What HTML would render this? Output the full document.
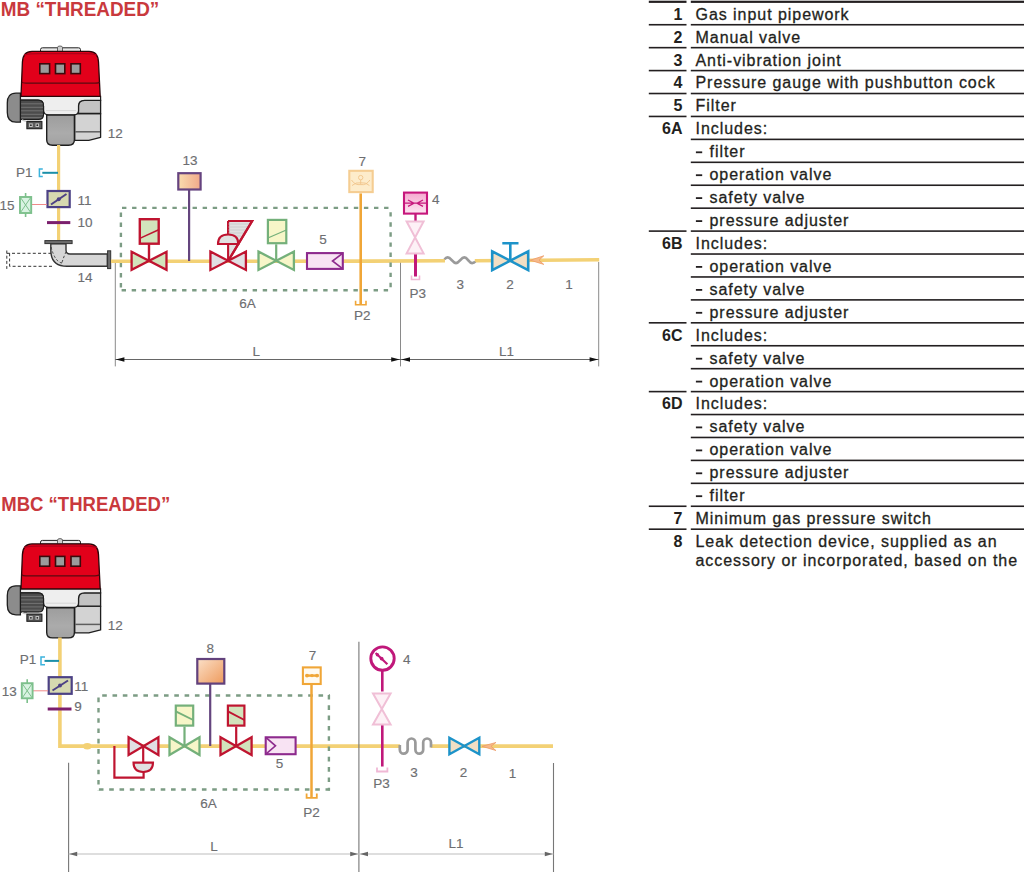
<!DOCTYPE html>
<html><head><meta charset="utf-8">
<style>
html,body{margin:0;padding:0;background:#fff;width:1024px;height:872px;overflow:hidden}
svg{display:block;position:absolute;left:0;top:0}
text{font-family:"Liberation Sans",sans-serif}
.t{font-size:16px;fill:#231f20;letter-spacing:0.95px;stroke:#231f20;stroke-width:0.3px}
.n{font-size:16px;fill:#231f20;font-weight:bold;text-anchor:end}
.lb{font-size:13.5px;fill:#6d6e71;stroke:#6d6e71;stroke-width:0.15px}
.ttl{font-size:19.8px;font-weight:bold;fill:#c9393d}
</style></head>
<body>
<svg width="1024" height="872" viewBox="0 0 1024 872">
<defs>
<linearGradient id="gOr" x1="0" y1="0" x2="1" y2="1"><stop offset="0" stop-color="#fbe0c8"/><stop offset="1" stop-color="#ee9a5c"/></linearGradient>
<linearGradient id="gOr2" x1="0" y1="0" x2="1" y2="0"><stop offset="0" stop-color="#f9dcae"/><stop offset="1" stop-color="#f1a98a"/></linearGradient>
<linearGradient id="gBody" x1="0" y1="0" x2="0" y2="1"><stop offset="0" stop-color="#9d9d9d"/><stop offset=".6" stop-color="#ababab"/><stop offset="1" stop-color="#a2a2a2"/></linearGradient>
<linearGradient id="gPink" x1="0" y1="0" x2="0" y2="1"><stop offset="0" stop-color="#f5a9cf"/><stop offset="1" stop-color="#fde6f2"/></linearGradient>
<g id="burner">
<text class="lb" x="107.8" y="137.7">12</text>
<!-- handle -->
<path d="M40.5 51.5 L40.5 49.5 Q40.5 47.8 42.5 47.8 L78.5 47.8 Q80.5 47.8 80.5 49.5 L80.5 51.5 Z" fill="#e8e8e8" stroke="#222" stroke-width="1"/>
<path d="M57.5 51 L57.5 47.5 Q57.5 46 60 46 Q62.5 46 62.5 47.5 L62.5 51" fill="#cfcfcf" stroke="#444" stroke-width="0.8"/>
<!-- right box -->
<path d="M74.7 113.5 H100.6 V137.3 L88.8 140.3 H74.7 Z" fill="#d3d3d3" stroke="#1e1e1e" stroke-width="1.3" stroke-linejoin="round"/>
<path d="M78.5 113.5 V105.8 Q78.5 100.3 84.5 100.3 H100.6 V113.5 Z" fill="#c3c3c3" stroke="#1e1e1e" stroke-width="1.3"/>
<path d="M75.3 131.8 H100" stroke="#5e5e5e" stroke-width="1.5"/>
<!-- white band -->
<path d="M20.4 96.3 H100.6 V100.3 H84.5 Q78.5 100.3 78.5 105.8 V110.5 Q78.5 114.8 74 114.8 H48.5 Q43.5 114.8 43.5 110 V106 Q43.5 100.2 38 100.2 H20.4 Z" fill="#eeeeee" stroke="#1e1e1e" stroke-width="1.2"/>
<path d="M46 110.6 H76" stroke="#d0d0d0" stroke-width="0.8"/>
<!-- center body -->
<path d="M46.7 115.1 H74.4 V139.8 Q74.4 145.3 68.5 145.3 H52.6 Q46.7 145.3 46.7 139.8 Z" fill="url(#gBody)" stroke="#1e1e1e" stroke-width="1.4"/>
<!-- motor body -->
<path d="M20.4 100.2 H38 Q43.5 100.2 43.5 106 V114.5 Q43.5 119.5 38.5 119.5 H20.4 Z" fill="#4c4c4c" stroke="#1e1e1e" stroke-width="1.2"/>
<path d="M21 103.8 H42.8 M21 107.3 H43 M21 110.8 H43 M21 114.3 H43 M21 117.6 H41.5" stroke="#7d7d7d" stroke-width="0.8"/>
<path d="M27 120.6 H41.5" stroke="#cfcfcf" stroke-width="1"/>
<!-- terminal box -->
<path d="M22 119.8 Q24 121.3 27 121.3 H41.5" stroke="#c9c9c9" stroke-width="1.3" fill="none"/>
<rect x="26.9" y="121.6" width="15" height="7.1" fill="#5c5c5c" stroke="#1e1e1e" stroke-width="1.1"/>
<rect x="29.1" y="123.4" width="3.6" height="3.6" fill="#c4c4c4"/><rect x="35.5" y="123.4" width="3.6" height="3.6" fill="#c4c4c4"/><circle cx="30.9" cy="125.2" r="0.9" fill="#222"/><circle cx="37.3" cy="125.2" r="0.9" fill="#222"/>
<!-- motor cap -->
<path d="M20.4 93.2 L16 93.2 Q7.3 93.2 7.3 103 L7.3 112.5 Q7.3 122.2 16 122.2 L20.4 122.2 Z" fill="#8c8c8c" stroke="#1e1e1e" stroke-width="1.3"/>
<!-- red top -->
<path d="M21 96.3 L22.4 62 Q23 51.3 32 51.3 L89 51.3 Q98 51.3 98.5 62 L100.2 96.3 Z" fill="#e2001a" stroke="#2a0508" stroke-width="1.3"/>
<path d="M24 54.8 Q30 53.5 40 53.6 L82 53.6 Q92 53.5 97 54.8" stroke="#b0001a" stroke-width="1.2" fill="none"/>
<path d="M21.8 82 Q22.5 83.2 26 83.2 L95 83.2 Q99 83.2 99.5 82" stroke="#5a0a10" stroke-width="1.2" fill="none"/>
<rect x="39.8" y="63.8" width="9.8" height="9.8" fill="#9b9b9b" stroke="#3a0a0c" stroke-width="1.6"/>
<rect x="55.5" y="63.8" width="9.3" height="9.8" fill="#9b9b9b" stroke="#3a0a0c" stroke-width="1.6"/>
<rect x="71" y="63.8" width="9.3" height="9.8" fill="#9b9b9b" stroke="#3a0a0c" stroke-width="1.6"/>
</g>

</defs>
<!-- TITLES -->
<text class="ttl" x="0.8" y="15.5" textLength="158.5" lengthAdjust="spacingAndGlyphs">MB “THREADED”</text>
<text class="ttl" x="1.2" y="510.6" textLength="169" lengthAdjust="spacingAndGlyphs">MBC “THREADED”</text>
<!-- TABLE -->
<g id="table">
<rect x="690.8" y="0.70" width="334" height="2.2" fill="#231f20"/>
<rect x="648.8" y="0.70" width="37.7" height="2.2" fill="#231f20"/>
<text class="n" x="682.5" y="19.6">1</text>
<text class="t" x="695.5" y="19.6">Gas input pipework</text>
<rect x="690.8" y="23.93" width="334" height="1.6" fill="#231f20"/>
<rect x="648.8" y="23.93" width="37.7" height="1.6" fill="#231f20"/>
<text class="n" x="682.5" y="42.5">2</text>
<text class="t" x="695.5" y="42.5">Manual valve</text>
<rect x="690.8" y="46.86" width="334" height="1.6" fill="#231f20"/>
<rect x="648.8" y="46.86" width="37.7" height="1.6" fill="#231f20"/>
<text class="n" x="682.5" y="65.5">3</text>
<text class="t" x="695.5" y="65.5">Anti-vibration joint</text>
<rect x="690.8" y="69.79" width="334" height="1.6" fill="#231f20"/>
<rect x="648.8" y="69.79" width="37.7" height="1.6" fill="#231f20"/>
<text class="n" x="682.5" y="88.4">4</text>
<text class="t" x="695.5" y="88.4">Pressure gauge with pushbutton cock</text>
<rect x="690.8" y="92.72" width="334" height="1.6" fill="#231f20"/>
<rect x="648.8" y="92.72" width="37.7" height="1.6" fill="#231f20"/>
<text class="n" x="682.5" y="111.3">5</text>
<text class="t" x="695.5" y="111.3">Filter</text>
<rect x="690.8" y="115.65" width="334" height="1.6" fill="#231f20"/>
<rect x="648.8" y="115.65" width="37.7" height="1.6" fill="#231f20"/>
<text class="n" x="682.5" y="134.2">6A</text>
<text class="t" x="695.5" y="134.2">Includes:</text>
<rect x="690.8" y="138.58" width="334" height="1.6" fill="#231f20"/>
<rect x="695.9" y="151.4" width="6.3" height="1.8" fill="#231f20"/><text class="t" x="709.5" y="157.2">filter</text>
<rect x="690.8" y="161.51" width="334" height="1.6" fill="#231f20"/>
<rect x="695.9" y="174.3" width="6.3" height="1.8" fill="#231f20"/><text class="t" x="709.5" y="180.1">operation valve</text>
<rect x="690.8" y="184.44" width="334" height="1.6" fill="#231f20"/>
<rect x="695.9" y="197.2" width="6.3" height="1.8" fill="#231f20"/><text class="t" x="709.5" y="203.0">safety valve</text>
<rect x="690.8" y="207.37" width="334" height="1.6" fill="#231f20"/>
<rect x="695.9" y="220.2" width="6.3" height="1.8" fill="#231f20"/><text class="t" x="709.5" y="226.0">pressure adjuster</text>
<rect x="690.8" y="230.30" width="334" height="1.6" fill="#231f20"/>
<rect x="648.8" y="230.30" width="37.7" height="1.6" fill="#231f20"/>
<text class="n" x="682.5" y="248.9">6B</text>
<text class="t" x="695.5" y="248.9">Includes:</text>
<rect x="690.8" y="253.23" width="334" height="1.6" fill="#231f20"/>
<rect x="695.9" y="266.0" width="6.3" height="1.8" fill="#231f20"/><text class="t" x="709.5" y="271.8">operation valve</text>
<rect x="690.8" y="276.16" width="334" height="1.6" fill="#231f20"/>
<rect x="695.9" y="289.0" width="6.3" height="1.8" fill="#231f20"/><text class="t" x="709.5" y="294.8">safety valve</text>
<rect x="690.8" y="299.09" width="334" height="1.6" fill="#231f20"/>
<rect x="695.9" y="311.9" width="6.3" height="1.8" fill="#231f20"/><text class="t" x="709.5" y="317.7">pressure adjuster</text>
<rect x="690.8" y="322.02" width="334" height="1.6" fill="#231f20"/>
<rect x="648.8" y="322.02" width="37.7" height="1.6" fill="#231f20"/>
<text class="n" x="682.5" y="340.6">6C</text>
<text class="t" x="695.5" y="340.6">Includes:</text>
<rect x="690.8" y="344.95" width="334" height="1.6" fill="#231f20"/>
<rect x="695.9" y="357.8" width="6.3" height="1.8" fill="#231f20"/><text class="t" x="709.5" y="363.6">safety valve</text>
<rect x="690.8" y="367.88" width="334" height="1.6" fill="#231f20"/>
<rect x="695.9" y="380.7" width="6.3" height="1.8" fill="#231f20"/><text class="t" x="709.5" y="386.5">operation valve</text>
<rect x="690.8" y="390.81" width="334" height="1.6" fill="#231f20"/>
<rect x="648.8" y="390.81" width="37.7" height="1.6" fill="#231f20"/>
<text class="n" x="682.5" y="409.4">6D</text>
<text class="t" x="695.5" y="409.4">Includes:</text>
<rect x="690.8" y="413.74" width="334" height="1.6" fill="#231f20"/>
<rect x="695.9" y="426.5" width="6.3" height="1.8" fill="#231f20"/><text class="t" x="709.5" y="432.3">safety valve</text>
<rect x="690.8" y="436.67" width="334" height="1.6" fill="#231f20"/>
<rect x="695.9" y="449.5" width="6.3" height="1.8" fill="#231f20"/><text class="t" x="709.5" y="455.3">operation valve</text>
<rect x="690.8" y="459.60" width="334" height="1.6" fill="#231f20"/>
<rect x="695.9" y="472.4" width="6.3" height="1.8" fill="#231f20"/><text class="t" x="709.5" y="478.2">pressure adjuster</text>
<rect x="690.8" y="482.53" width="334" height="1.6" fill="#231f20"/>
<rect x="695.9" y="495.3" width="6.3" height="1.8" fill="#231f20"/><text class="t" x="709.5" y="501.1">filter</text>
<rect x="690.8" y="505.46" width="334" height="1.6" fill="#231f20"/>
<rect x="648.8" y="505.46" width="37.7" height="1.6" fill="#231f20"/>
<text class="n" x="682.5" y="524.1">7</text>
<text class="t" x="695.5" y="524.1">Minimum gas pressure switch</text>
<rect x="690.8" y="528.39" width="334" height="1.6" fill="#231f20"/>
<rect x="648.8" y="528.39" width="37.7" height="1.6" fill="#231f20"/>
<text class="n" x="682.5" y="547.0">8</text>
<text class="t" x="695.5" y="547.0">Leak detection device, supplied as an</text>
<text class="t" x="695.5" y="565.5">accessory or incorporated, based on the</text>
</g>
<!-- BURNERS -->
<g id="burners"><use href="#burner"/><use href="#burner" transform="translate(0,492.6)"/></g>
<!-- TOP DIAGRAM -->
<g id="top">
<g id="topd">
<!-- vertical pipe -->
<path d="M58.6 145 V240.5" stroke="#f3d175" stroke-width="3.2"/>
<!-- P1 -->
<text class="lb" x="32.6" y="177.3" text-anchor="end">P1</text>
<path d="M42.8 169 H39.4 V176.6 H42.8" fill="none" stroke="#3bb3dd" stroke-width="1.5"/>
<path d="M42.3 172.8 H58" stroke="#1b8fa8" stroke-width="2"/>
<!-- 11 -->
<rect x="47.5" y="191" width="22.2" height="16.1" fill="#d6d9b0" stroke="#4c4185" stroke-width="2.2"/>
<path d="M51 204.5 L66.5 194" stroke="#4c4185" stroke-width="2"/>
<circle cx="58.7" cy="199.2" r="2" fill="#4c4185"/>
<text class="lb" x="77.4" y="204.5">11</text>
<!-- 15 -->
<path d="M20 204.5 H47" stroke="#f08a8a" stroke-width="1"/>
<rect x="20" y="197" width="11.2" height="16" fill="#d9f3e2" stroke="#7dc08c" stroke-width="1.9"/>
<path d="M20.5 197.5 L30.7 212.5 M30.7 197.5 L20.5 212.5" stroke="#7dc08c" stroke-width="1"/>
<path d="M25.6 193 V197 M25.6 213 V217" stroke="#7dc08c" stroke-width="1.6"/>
<text class="lb" x="-0.5" y="209.7">15</text>
<!-- 10 -->
<path d="M47 222.6 H70.3" stroke="#7b1f6d" stroke-width="3"/>
<text class="lb" x="77.4" y="226.8">10</text>
<!-- elbow -->
<path d="M6.8 253.3 H52 M52 266.3 H9.5" fill="none" stroke="#333" stroke-width="1" stroke-dasharray="3 2.2"/>
<path d="M6.8 250.5 V268.9 M9.6 253.3 V266.3" fill="none" stroke="#333" stroke-width="1" stroke-dasharray="3 2.2"/>
<path d="M50.8 243.7 V250 Q50.8 266.3 67 266.3 H107.3 V254 H70 Q66 254 66 250 V243.7 Z" fill="#d6d6d6" stroke="#333" stroke-width="1.4"/>
<path d="M51 247 Q55 262 62 263" fill="none" stroke="#333" stroke-width="0.9" stroke-dasharray="2.5 2"/>
<path d="M62 262.5 Q64 256 66 252" fill="none" stroke="#333" stroke-width="0.9" stroke-dasharray="2.5 2"/>
<rect x="44.9" y="240.6" width="27.2" height="3" fill="#6d6d6d" stroke="#333" stroke-width="1"/>
<rect x="107.6" y="250.8" width="3.1" height="17.8" fill="#6d6d6d" stroke="#333" stroke-width="1"/>
<text class="lb" x="77.4" y="282.3">14</text>
<!-- dimension lines -->
<path d="M115.3 262 V366.4 M400.5 262 V366.4 M598.7 262 V366.4" stroke="#8a8a8a" stroke-width="1"/>
<path d="M115.3 359.5 H598.7" stroke="#555" stroke-width="0.9"/>
<path d="M115.8 359.5 L124.4 357.2 L124.4 361.8 Z M399.8 359.5 L391.2 357.2 L391.2 361.8 Z M401.4 359.5 L410.0 357.2 L410.0 361.8 Z M598.2 359.5 L589.6 357.2 L589.6 361.8 Z" fill="#111"/>
<text class="lb" x="256.2" y="356" text-anchor="middle">L</text>
<text class="lb" x="506.6" y="355.8" text-anchor="middle">L1</text>
<!-- main pipe -->
<path d="M111 261.3 L370 261.1 L445 260.8 M474.8 260.7 L510 260.5 L599.2 259.8" fill="none" stroke="#f3d175" stroke-width="3.6"/>
<!-- dashed rect -->
<g fill="none" stroke="#7c9c84" stroke-width="2.4" stroke-dasharray="4.4 5.68"><path d="M122 207.9 H391.6"/><path d="M121.6 290.2 H391.6"/><path d="M120.9 212.5 V291"/><path d="M390.6 212.2 V291"/></g>
<!-- 13 -->
<path d="M189.1 190 V261" stroke="#64457e" stroke-width="2.2"/>
<rect x="178.3" y="173.2" width="22.3" height="16.3" fill="url(#gOr2)" stroke="#65437f" stroke-width="2.2"/>
<text class="lb" x="190" y="165" text-anchor="middle">13</text>
<!-- valve 1 red solenoid -->
<path d="M149 261 V244" stroke="#bf1430" stroke-width="2.4"/>
<rect x="139.8" y="219.2" width="18.9" height="24.5" fill="#d2e3bc" stroke="#bf1430" stroke-width="2.4"/>
<path d="M139.8 238.4 L158.7 229.8" stroke="#bf1430" stroke-width="1.5"/>
<path d="M131.6 251.8 L166.5 269.8 V251.8 L131.6 269.8 Z" fill="#d2e3bc" stroke="#bf1430" stroke-width="2.3" stroke-linejoin="miter"/>
<!-- valve 2 red regulator -->
<path d="M228.1 221 H252.1 L228.1 261" fill="#e1e1e1" stroke="#bf1430" stroke-width="2.2"/>
<path d="M228.1 221 V244" stroke="#bf1430" stroke-width="2.2"/>
<path d="M228.5 224 H249 M228.5 227 H247.5 M228.5 230 H245.5 M228.5 233 H243.5 M228.5 236 H241.5" stroke="#c8c8c8" stroke-width="0.8"/>
<path d="M218 244 Q218 234.5 228.1 234.5 Q238.3 234.5 238.3 244 Z" fill="#e1e1e1" stroke="#bf1430" stroke-width="2.1"/>
<path d="M228.1 244 V261" stroke="#bf1430" stroke-width="2.1"/>
<path d="M210.4 251.6 L245.9 269.9 V251.6 L210.4 269.9 Z" fill="#e1dfe3" stroke="#bf1430" stroke-width="2.3"/>
<path d="M228.1 221 L252.1 221 L228.1 261" fill="none" stroke="#bf1430" stroke-width="2.2"/>
<!-- valve 3 green -->
<path d="M276.2 261 V244.3" stroke="#74b07a" stroke-width="2.2"/>
<rect x="267.9" y="219.9" width="18.4" height="23.3" fill="#f7f6c8" stroke="#74b07a" stroke-width="2.2"/>
<path d="M267.9 238 L286.3 230" stroke="#74b07a" stroke-width="1.3"/>
<path d="M258.5 251.6 L293.9 269.9 V251.6 L258.5 269.9 Z" fill="#f7f6c8" stroke="#74b07a" stroke-width="2.3"/>
<!-- filter 5 -->
<rect x="307" y="253.1" width="35.8" height="15.8" fill="#f8e3f3" stroke="#8d2a8d" stroke-width="2.1"/>
<path d="M342.8 253.2 L332.5 261 L342.8 268.8" fill="none" stroke="#8d2a8d" stroke-width="1.6"/>
<text class="lb" x="323" y="244" text-anchor="middle">5</text>
<!-- 7 -->
<path d="M360.7 193.4 V304" stroke="#f0a637" stroke-width="2.6"/>
<path d="M355.6 300.8 V304.8 H366 V300.8" fill="none" stroke="#f0a637" stroke-width="1.6"/>
<rect x="349.3" y="170.8" width="23.4" height="21.3" fill="#fdeccb" stroke="#f5cd92" stroke-width="2.1"/>
<path d="M351.5 180 Q355 185.5 360.7 184.6 Q366.4 185.5 369.9 180 M352 185.5 Q356 182 360.7 182.8 Q365.4 182 369.4 185.5 M360.7 180 V184.6" fill="none" stroke="#f0c48a" stroke-width="0.9"/>
<circle cx="360.7" cy="177.6" r="2.2" fill="none" stroke="#f0c48a" stroke-width="0.9"/>
<text class="lb" x="362.3" y="165.6" text-anchor="middle">7</text>
<text class="lb" x="362.3" y="320.4" text-anchor="middle">P2</text>
<text class="lb" x="247.5" y="308.2" text-anchor="middle">6A</text>
<!-- 4 gauge with cock -->
<path d="M415.5 254 V276.5" stroke="#c0187a" stroke-width="3"/>
<path d="M411.5 275.5 V279.5 H419.5 V275.5" fill="none" stroke="#f0b8d5" stroke-width="1.6"/>
<path d="M406.6 221.4 H423.6 L406.6 253.4 H423.6 Z" fill="#fdf1f6" stroke="#f0bfd6" stroke-width="2"/>
<path d="M415.5 214 V220.6" stroke="#c0187a" stroke-width="2.4"/>
<rect x="404" y="192.6" width="23" height="21" fill="url(#gPink)" stroke="#c6177c" stroke-width="2.1"/>
<path d="M405 203.2 H426 M408 200 L414 203.2 L408 206.4 M423 200 L417 203.2 L423 206.4" fill="none" stroke="#c6177c" stroke-width="1.3"/>
<text class="lb" x="432" y="203.5">4</text>
<text class="lb" x="417.8" y="297.8" text-anchor="middle">P3</text>
<!-- 3 anti vibration -->
<path d="M444.6 259.4 C445.5 257.9 446.5 257.4 447.7 257.4 C451 257.4 452.5 263.1 456 263.1 C459.5 263.1 461 257.4 464.3 257.4 C467.6 257.4 469 263.1 472.1 263.1 C473.5 263.1 474.5 262.6 475.2 261.6" fill="none" stroke="#9a9a9a" stroke-width="2.7"/>
<text class="lb" x="460.2" y="289.4" text-anchor="middle">3</text>
<!-- 2 manual valve -->
<path d="M492.2 251.3 L528.2 270.2 V251.3 L492.2 270.2 Z" fill="#f2dfc4" stroke="#1d93c9" stroke-width="2.6"/>
<path d="M510.3 260.5 V243.3 M502.3 243.3 H518.5" stroke="#1d93c9" stroke-width="2.6"/>
<text class="lb" x="510" y="289" text-anchor="middle">2</text>
<path d="M543.8 255.8 L530.2 260.2 L543.8 264.4 L539 260.2 Z" fill="#f6b98a" stroke="#ee9a66" stroke-width="0.8"/>
<text class="lb" x="569.1" y="289" text-anchor="middle">1</text>
</g>

</g>
<!-- BOTTOM DIAGRAM -->
<g id="bottom">
<g id="botd">
<!-- vertical pipe with corner -->
<path d="M59.9 637.5 V746.1 H400 M430.8 746.1 H553" fill="none" stroke="#f3d175" stroke-width="3.6" stroke-linejoin="miter"/>
<ellipse cx="87.3" cy="746.3" rx="4.2" ry="3.3" fill="#f3d175"/>
<!-- P1 -->
<text class="lb" x="36.2" y="663.6" text-anchor="end">P1</text>
<path d="M45 657 H41 V664.8 H45" fill="none" stroke="#3bb3dd" stroke-width="1.5"/>
<path d="M44.5 660.9 H59" stroke="#1b8fa8" stroke-width="2"/>
<!-- 11 -->
<rect x="48.7" y="677.2" width="23" height="16.6" fill="#d6d9b0" stroke="#4c4185" stroke-width="2.2"/>
<path d="M52.5 690.5 L68 680.5" stroke="#4c4185" stroke-width="2"/>
<circle cx="60" cy="685.5" r="2" fill="#4c4185"/>
<text class="lb" x="74.3" y="690.5">11</text>
<!-- 13 -->
<path d="M33 690.8 H48" stroke="#f08a8a" stroke-width="1"/>
<rect x="21.8" y="683.2" width="10.8" height="15.1" fill="#d9f3e2" stroke="#7dc08c" stroke-width="1.9"/>
<path d="M22.3 683.7 L32.1 697.8 M32.1 683.7 L22.3 697.8" stroke="#7dc08c" stroke-width="1"/>
<path d="M27.2 679.2 V683.2 M27.2 698.3 V703" stroke="#7dc08c" stroke-width="1.6"/>
<text class="lb" x="1.8" y="695.6">13</text>
<!-- 9 -->
<path d="M47.7 709 H71.5" stroke="#7b1f6d" stroke-width="3"/>
<text class="lb" x="74.3" y="711.3">9</text>
<!-- dimension lines -->
<path d="M68.6 762.7 V872 M553.5 762.9 V872" stroke="#777" stroke-width="1.1"/>
<path d="M358.9 641.7 V872" stroke="#777" stroke-width="1.1"/>
<path d="M68.6 854 H553.5" stroke="#bdbdbd" stroke-width="1"/>
<path d="M69.2 854 L77.2 851.8 L77.2 856.2 Z M358.2 854 L350.2 851.8 L350.2 856.2 Z M360.0 854 L368.0 851.8 L368.0 856.2 Z M552.8 854 L544.8 851.8 L544.8 856.2 Z" fill="#666"/>
<text class="lb" x="214" y="850.6" text-anchor="middle">L</text>
<text class="lb" x="456" y="847.5" text-anchor="middle">L1</text>
<!-- dashed rect -->
<g fill="none" stroke="#7c9c84" stroke-width="2.4" stroke-dasharray="4.6 5.7"><path d="M102.2 695.5 H330"/><path d="M98.9 789.5 H330"/><path d="M98.5 697.6 V790.5"/><path d="M328.9 695 V790.5"/></g>
<text class="lb" x="208.6" y="807.6" text-anchor="middle">6A</text>
<!-- valve A regulator below -->
<path d="M114.4 746 V777.6 H143.6 V772" fill="none" stroke="#bf1430" stroke-width="2.2"/>
<path d="M143.2 746 V762.6" stroke="#bf1430" stroke-width="2.2"/>
<path d="M133.5 762.6 H153 Q153 772 143.2 772 Q133.5 772 133.5 762.6 Z" fill="#e1e1e1" stroke="#bf1430" stroke-width="2.1"/>
<path d="M128.6 737.3 L158.4 755 V737.3 L128.6 755 Z" fill="#e1dfe3" stroke="#bf1430" stroke-width="2.3"/>
<!-- valve B green -->
<path d="M184.5 746 V726.6" stroke="#74b07a" stroke-width="2.2"/>
<rect x="175.8" y="705.6" width="17.4" height="20" fill="#f7f6c8" stroke="#74b07a" stroke-width="2.2"/>
<path d="M175.8 711.3 L193.2 720" stroke="#74b07a" stroke-width="1.9"/>
<path d="M169.5 737.3 L199.5 755 V737.3 L169.5 755 Z" fill="#f7f6c8" stroke="#74b07a" stroke-width="2.3"/>
<!-- 8 -->
<path d="M210.2 683.7 V746" stroke="#64457e" stroke-width="2.2"/>
<rect x="197.3" y="659" width="27" height="24.6" fill="url(#gOr)" stroke="#62417c" stroke-width="2.2"/>
<text class="lb" x="210.2" y="653.3" text-anchor="middle">8</text>
<!-- valve C red solenoid -->
<path d="M236.2 746 V726.6" stroke="#bf1430" stroke-width="2.2"/>
<rect x="227.9" y="705.6" width="16.5" height="20" fill="#d2e3bc" stroke="#bf1430" stroke-width="2.2"/>
<path d="M227.9 711.3 L244.4 720" stroke="#bf1430" stroke-width="1.9"/>
<path d="M220.5 737.3 L251.6 755 V737.3 L220.5 755 Z" fill="#d2e3bc" stroke="#bf1430" stroke-width="2.3"/>
<!-- filter 5 -->
<rect x="265.7" y="737.3" width="29.9" height="16.9" fill="#f8e3f3" stroke="#8d2a8d" stroke-width="2.1"/>
<path d="M265.8 737.4 L275.5 745.8 L265.8 754.1" fill="none" stroke="#8d2a8d" stroke-width="1.6"/>
<text class="lb" x="279.4" y="768.4" text-anchor="middle">5</text>
<!-- 7 -->
<path d="M311.5 684 V797" stroke="#f0a637" stroke-width="2.5"/>
<path d="M306.6 793.4 V797.8 H316.8 V793.4" fill="none" stroke="#f0a637" stroke-width="1.8"/>
<rect x="302.9" y="667.4" width="17.8" height="16.6" fill="#fffaf0" stroke="#f0a637" stroke-width="2.1"/>
<path d="M305.8 675.6 H318.6" stroke="#f0a637" stroke-width="2.4"/>
<circle cx="307" cy="675.6" r="1.9" fill="#f0a637"/><circle cx="312" cy="675.6" r="1.7" fill="#f0a637"/><circle cx="317" cy="675.6" r="1.9" fill="#f0a637"/>
<text class="lb" x="312.4" y="660.2" text-anchor="middle">7</text>
<text class="lb" x="311.5" y="816.5" text-anchor="middle">P2</text>
<!-- 4 gauge -->
<path d="M382.3 671 V691.6 M382.3 725.1 V766.5" stroke="#c0187a" stroke-width="2.6"/>
<path d="M377 767.5 V771.5 H387.4 V767.5" fill="none" stroke="#f0b8d5" stroke-width="1.8"/>
<path d="M373 693.4 H390.6 L373 724.4 H390.6 Z" fill="#fdf1f6" stroke="#f0bfd6" stroke-width="2"/>
<circle cx="382.5" cy="658.6" r="11.7" fill="#fff" stroke="#c0187a" stroke-width="2.9"/>
<path d="M375.6 653 L387.4 664.2" stroke="#c0187a" stroke-width="2.2"/>
<circle cx="377.4" cy="654.7" r="1.7" fill="#c0187a"/><circle cx="381.6" cy="658.6" r="1.9" fill="#c0187a"/>
<text class="lb" x="403" y="664.1">4</text>
<text class="lb" x="381.5" y="787.9" text-anchor="middle">P3</text>
<!-- 3 bellows -->
<path d="M399.8 745 V749.8 A3.9 3.9 0 0 0 407.6 749.8 V742.4 A3.9 3.9 0 0 1 415.4 742.4 V749.8 A3.9 3.9 0 0 0 423.2 749.8 V742.4 A3.9 3.9 0 0 1 431 742.4 V747.5" fill="none" stroke="#9a9a9a" stroke-width="2.7"/>
<text class="lb" x="414" y="777.2" text-anchor="middle">3</text>
<!-- 2 valve -->
<path d="M449.4 737.8 L479.3 754.3 V737.8 L449.4 754.3 Z" fill="#f2dfc4" stroke="#1d93c9" stroke-width="2.4"/>
<text class="lb" x="463.4" y="776.5" text-anchor="middle">2</text>
<path d="M495.9 742.5 L482 746.3 L495.9 750.5 L491 746.3 Z" fill="#f6b98a" stroke="#ee9a66" stroke-width="0.8"/>
<text class="lb" x="512.6" y="777.8" text-anchor="middle">1</text>
</g>

</g>
</svg>
</body></html>
